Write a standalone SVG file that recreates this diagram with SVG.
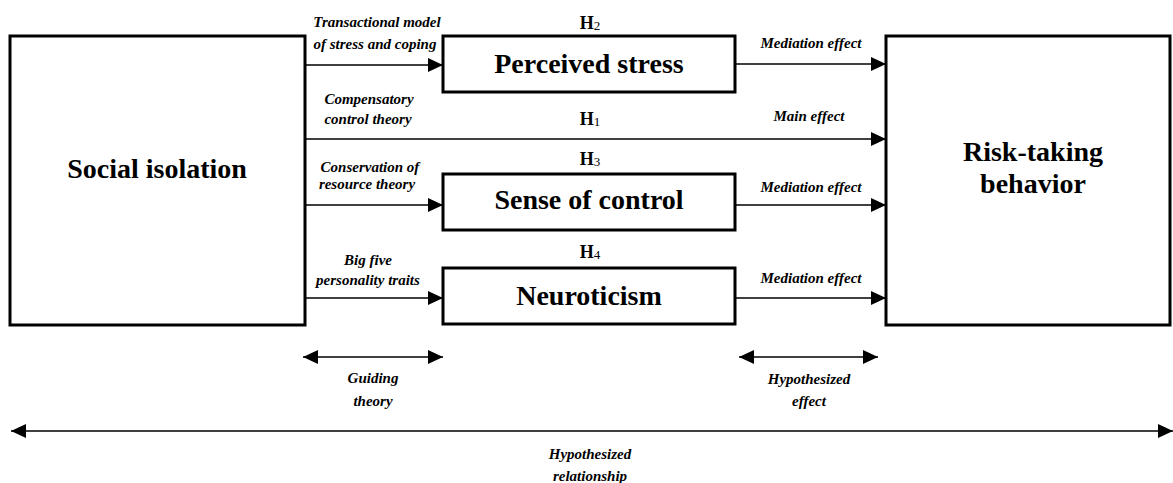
<svg xmlns="http://www.w3.org/2000/svg" width="1173" height="483" viewBox="0 0 1173 483">
<style>
.box{fill:#fff;stroke:#000;stroke-width:3}
.ln{stroke:#000;stroke-width:1.6;fill:none}
.big{font-family:"Liberation Serif",serif;font-weight:bold;font-size:28px;text-anchor:middle;fill:#000}
.h{font-family:"Liberation Serif",serif;font-weight:bold;font-size:18px;text-anchor:middle;fill:#000}
.sub{font-weight:normal;font-size:13px}
.lab{font-family:"Liberation Serif",serif;font-weight:bold;font-style:italic;font-size:15px;text-anchor:middle;fill:#000}
</style>
<defs>
<marker id="ah" markerUnits="userSpaceOnUse" markerWidth="16" markerHeight="16" viewBox="0 0 16 16" refX="15" refY="8" orient="auto-start-reverse">
<path d="M0,1 L15,8 L0,15 Z" fill="#000"/>
</marker>
</defs>
<g id="social-isolation">
<rect class="box" x="10" y="36" width="295" height="289"/>
<text class="big" x="157" y="178">Social isolation</text>
</g>
<g id="risk-taking">
<rect class="box" x="886" y="36" width="284" height="289"/>
<text class="big" x="1033" y="161">Risk-taking</text>
<text class="big" x="1033" y="193">behavior</text>
</g>
<g id="perceived-stress">
<rect class="box" x="443" y="36" width="292" height="56"/>
<text class="big" x="589" y="73">Perceived stress</text>
</g>
<g id="sense-of-control">
<rect class="box" x="443" y="174" width="292" height="56"/>
<text class="big" x="589" y="209">Sense of control</text>
</g>
<g id="neuroticism">
<rect class="box" x="443" y="268" width="292" height="56"/>
<text class="big" x="589" y="305">Neuroticism</text>
</g>
<g id="connectors">
<line class="ln" x1="305" y1="65" x2="443" y2="65" marker-end="url(#ah)"/>
<line class="ln" x1="735" y1="64" x2="886" y2="64" marker-end="url(#ah)"/>
<line class="ln" x1="305" y1="139" x2="886" y2="139" marker-end="url(#ah)"/>
<line class="ln" x1="305" y1="205" x2="443" y2="205" marker-end="url(#ah)"/>
<line class="ln" x1="735" y1="205" x2="886" y2="205" marker-end="url(#ah)"/>
<line class="ln" x1="305" y1="298" x2="443" y2="298" marker-end="url(#ah)"/>
<line class="ln" x1="735" y1="298" x2="886" y2="298" marker-end="url(#ah)"/>
<line class="ln" x1="303" y1="357" x2="443" y2="357" marker-start="url(#ah)" marker-end="url(#ah)"/>
<line class="ln" x1="739" y1="357" x2="878" y2="357" marker-start="url(#ah)" marker-end="url(#ah)"/>
<line class="ln" x1="11" y1="431" x2="1173" y2="431" marker-start="url(#ah)" marker-end="url(#ah)"/>
</g>
<g id="labels">
<text class="h" x="590" y="29">H<tspan class="sub" dy="1">2</tspan></text>
<text class="h" x="590" y="125">H<tspan class="sub" dy="1">1</tspan></text>
<text class="h" x="590" y="165">H<tspan class="sub" dy="1">3</tspan></text>
<text class="h" x="590" y="258">H<tspan class="sub" dy="1">4</tspan></text>
<text class="lab" x="377" y="27">Transactional model</text>
<text class="lab" x="375" y="49">of stress and coping</text>
<text class="lab" x="369" y="104">Compensatory</text>
<text class="lab" x="368" y="124">control theory</text>
<text class="lab" x="370" y="172">Conservation of</text>
<text class="lab" x="367" y="189">resource theory</text>
<text class="lab" x="368" y="265">Big five</text>
<text class="lab" x="368" y="285">personality traits</text>
<text class="lab" x="811" y="48">Mediation effect</text>
<text class="lab" x="809" y="121">Main effect</text>
<text class="lab" x="811" y="192">Mediation effect</text>
<text class="lab" x="811" y="283">Mediation effect</text>
<text class="lab" x="373" y="383">Guiding</text>
<text class="lab" x="373" y="406">theory</text>
<text class="lab" x="809" y="384">Hypothesized</text>
<text class="lab" x="809" y="406">effect</text>
<text class="lab" x="590" y="459">Hypothesized</text>
<text class="lab" x="590" y="481">relationship</text>
</g>
</svg>
